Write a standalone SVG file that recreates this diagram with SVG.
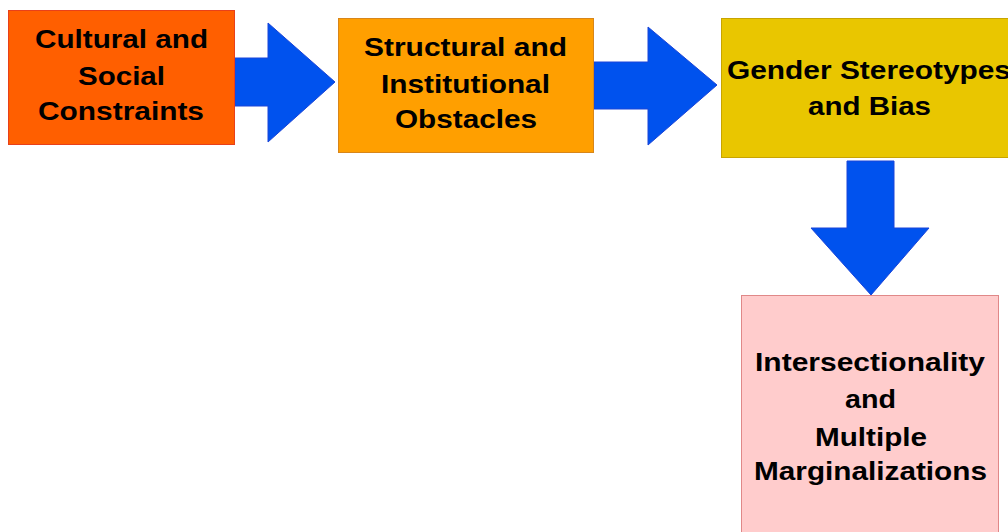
<svg xmlns="http://www.w3.org/2000/svg" width="1008" height="532" viewBox="0 0 1008 532">
<style>
text{font-family:"Liberation Sans",Arial,sans-serif;font-weight:bold;font-size:26px;fill:#000;text-anchor:middle}
.arrow{fill:#0052EE;stroke:#1A44D8;stroke-width:1}
</style>
<rect width="1008" height="532" fill="#fff"/>
<g id="connectors">
<polygon class="arrow" points="235,58 268,58 268,23 335,82 268,142 268,106 235,106"/>
<polygon class="arrow" points="594,62 648,62 648,27 717,85 648,145 648,109 594,109"/>
<polygon class="arrow" points="847,161 894,161 894,228 929,228 871,295 811,228 847,228"/>
</g>
<g id="node-cultural">
<rect x="8.5" y="10.5" width="226" height="134" fill="#FF5F00" stroke="#E8401A"/>
<text x="121.5" y="48" textLength="173" lengthAdjust="spacingAndGlyphs">Cultural and</text>
<text x="121.5" y="85" textLength="87" lengthAdjust="spacingAndGlyphs">Social</text>
<text x="121" y="120" textLength="166" lengthAdjust="spacingAndGlyphs">Constraints</text>
</g>
<g id="node-structural">
<rect x="338.5" y="18.5" width="255" height="134" fill="#FF9F00" stroke="#D8861A"/>
<text x="465.5" y="56" textLength="203" lengthAdjust="spacingAndGlyphs">Structural and</text>
<text x="465.5" y="93" textLength="169" lengthAdjust="spacingAndGlyphs">Institutional</text>
<text x="466" y="128" textLength="142" lengthAdjust="spacingAndGlyphs">Obstacles</text>
</g>
<g id="node-gender">
<rect x="721.5" y="18.5" width="296" height="139" fill="#E9C600" stroke="#C8A400"/>
<text x="869" y="79" textLength="284" lengthAdjust="spacingAndGlyphs">Gender Stereotypes</text>
<text x="869.5" y="115" textLength="123" lengthAdjust="spacingAndGlyphs">and Bias</text>
</g>
<g id="node-intersectionality">
<rect x="741.5" y="295.5" width="257" height="250" fill="#FFCCCC" stroke="#E08888"/>
<text x="870" y="371" textLength="230" lengthAdjust="spacingAndGlyphs">Intersectionality</text>
<text x="870.5" y="408" textLength="51" lengthAdjust="spacingAndGlyphs">and</text>
<text x="871" y="446" textLength="112" lengthAdjust="spacingAndGlyphs">Multiple</text>
<text x="870.5" y="480" textLength="233" lengthAdjust="spacingAndGlyphs">Marginalizations</text>
</g>
</svg>
